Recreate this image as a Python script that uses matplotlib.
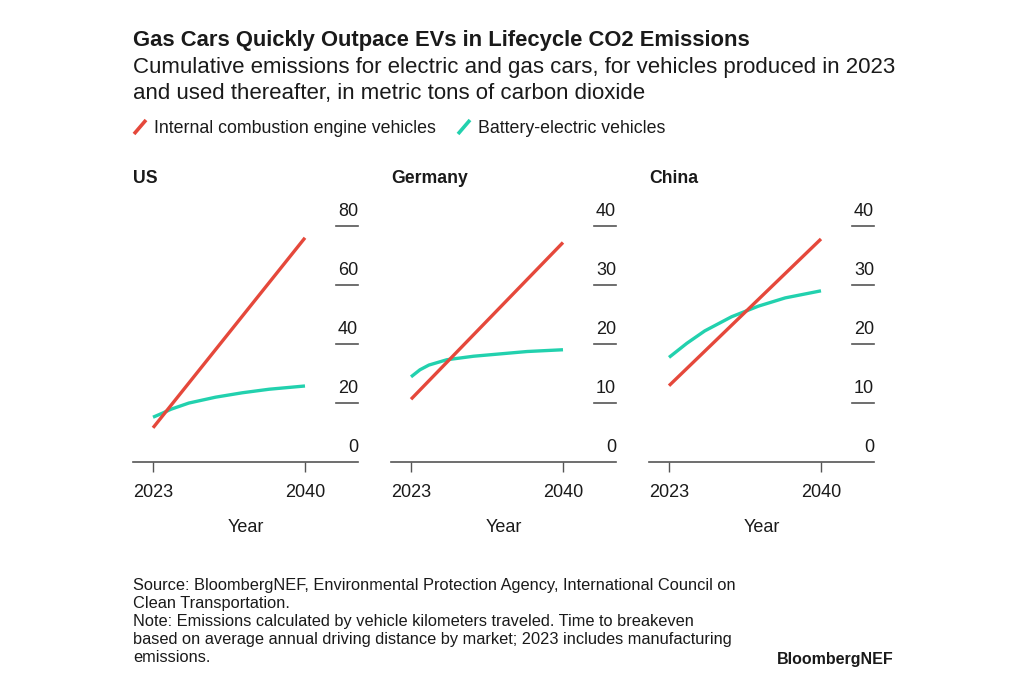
import matplotlib.pyplot as plt
from matplotlib.lines import Line2D
from matplotlib.transforms import blended_transform_factory

plt.rcParams["font.family"] = ["Liberation Sans", "DejaVu Sans"]

W, H = 1024, 683

countries = ["US", "Germany", "China"]
y_ticks = {
    "US": [0, 20, 40, 60, 80],
    "Germany": [0, 10, 20, 30, 40],
    "China": [0, 10, 20, 30, 40],
}

ice_years = [2023, 2040]
ice_values = {
    "US": [11.5, 76.0],
    "Germany": [10.6, 37.2],
    "China": [12.9, 37.8],
}

bev_years = [2023, 2024, 2025, 2027, 2030, 2033, 2036, 2040]
bev_values = {
    "US": [15.1, 16.4, 17.8, 19.9, 21.9, 23.4, 24.6, 25.7],
    "Germany": [14.4, 15.6, 16.4, 17.3, 17.9, 18.3, 18.7, 19.0],
    "China": [17.7, 18.9, 20.1, 22.2, 24.6, 26.4, 27.8, 29.0],
}

ice_color = "#E5483B"
bev_color = "#22D1AE"
text_color = "#1A1A1A"
axis_color = "#555555"


def px(x, y):
    return x / W, 1 - y / H


fig = plt.figure(figsize=(W / 100, H / 100), dpi=100)
fig.patch.set_facecolor("white")

# header
fig.text(*px(133, 46), "Gas Cars Quickly Outpace EVs in Lifecycle CO2 Emissions",
         fontsize=15.8, fontweight="bold", color=text_color, va="baseline")
fig.text(*px(133, 73), "Cumulative emissions for electric and gas cars, for vehicles produced in 2023",
         fontsize=16, color=text_color, va="baseline")
fig.text(*px(133, 99), "and used thereafter, in metric tons of carbon dioxide",
         fontsize=16, color=text_color, va="baseline")

# legend
for x0, color, label in [(133, ice_color, "Internal combustion engine vehicles"),
                         (457, bev_color, "Battery-electric vehicles")]:
    xa, ya = px(x0 + 1, 134)
    xb, yb = px(x0 + 13, 120)
    fig.add_artist(Line2D([xa, xb], [ya, yb], color=color, linewidth=2.6,
                          solid_capstyle="butt", transform=fig.transFigure))
    fig.text(*px(x0 + 21, 133), label, fontsize=12.8, color=text_color, va="baseline")

lefts = [133, 391, 649]
ax_w = 225
ax_bottom = 461.7
ax_top = 226
for country, left in zip(countries, lefts):
    x0, y0 = px(left, ax_bottom)
    ax = fig.add_axes([x0, y0, ax_w / W, (ax_bottom - ax_top) / H])
    ticks = y_ticks[country]
    ax.set_xlim(2020.76, 2045.93)
    ax.set_ylim(0, ticks[-1])
    ax.plot(ice_years, ice_values[country], color=ice_color, linewidth=2.4,
            solid_capstyle="butt", zorder=3)
    ax.plot(bev_years, bev_values[country], color=bev_color, linewidth=2.4,
            solid_capstyle="butt", zorder=2)

    for s in ["top", "right", "left"]:
        ax.spines[s].set_visible(False)
    ax.spines["bottom"].set_color(axis_color)
    ax.spines["bottom"].set_linewidth(1.2)
    ax.set_yticks([])
    ax.set_xticks([2023, 2040])
    ax.set_xticklabels(["2023", "2040"])
    ax.tick_params(axis="x", length=7, width=1.0, color=axis_color,
                   labelsize=13, labelcolor=text_color, pad=9)
    ax.set_xlabel("Year", fontsize=13, color=text_color, labelpad=13)

    trans = blended_transform_factory(ax.transAxes, ax.transData)
    for v in ticks:
        if v > 0:
            ax.plot([0.902, 1.0], [v, v], color=axis_color, linewidth=1.2,
                    transform=trans, clip_on=False)
        ax.annotate(str(v), xy=(1.0, v), xycoords=trans, xytext=(0, 4),
                    textcoords="offset points", ha="right", va="bottom",
                    fontsize=13, color=text_color, annotation_clip=False)

    fig.text(*px(left, 183), country, fontsize=12.7, fontweight="bold",
             color=text_color, va="baseline")

# footer
notes = [
    "Source: BloombergNEF, Environmental Protection Agency, International Council on",
    "Clean Transportation.",
    "Note: Emissions calculated by vehicle kilometers traveled. Time to breakeven",
    "based on average annual driving distance by market; 2023 includes manufacturing",
    "emissions.",
]
for i, line in enumerate(notes):
    fig.text(*px(133, 590 + i * 18), line, fontsize=11.8, color=text_color, va="baseline")
fig.text(*px(894, 664), "BloombergNEF", fontsize=11.5, fontweight="bold",
         color=text_color, ha="right", va="baseline")

fig.savefig("out.png", dpi=100)
